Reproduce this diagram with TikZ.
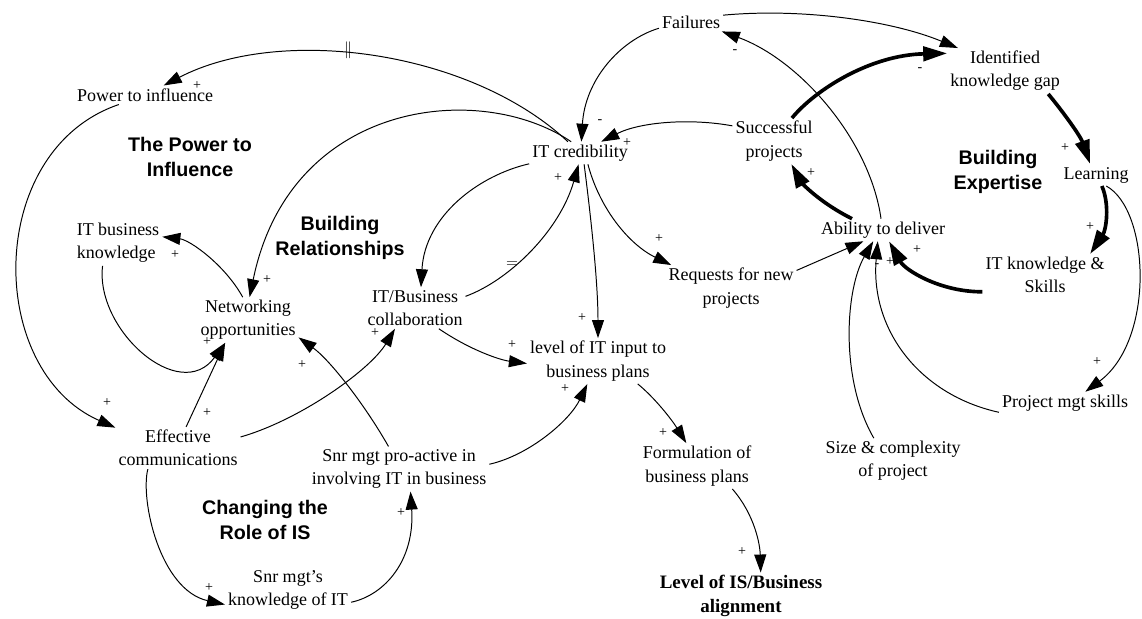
\documentclass[tikz,border=0pt]{standalone}
\usepackage{fontspec}
\setmainfont{Liberation Serif}
\setsansfont{Liberation Sans}
\usetikzlibrary{arrows.meta}
\tikzstyle{var}=[font=\fontsize{12.8}{16.5}\selectfont, align=center, inner sep=2pt]
\tikzstyle{loopname}=[font=\sffamily\bfseries\fontsize{14}{17.5}\selectfont, align=center]
\tikzstyle{goal}=[font=\bfseries\fontsize{13.5}{16.5}\selectfont, align=center, inner sep=2pt]
\tikzstyle{pol}=[font=\fontsize{10}{10}\selectfont, inner sep=0pt]
\tikzstyle{link}=[line width=0.7pt, -{Triangle[length=4.5mm,width=3mm]}]
\tikzstyle{strong}=[line width=2.6pt, -{Triangle[length=6mm,width=3.6mm]}]

\begin{document}
\begin{tikzpicture}[x=0.025cm,y=-0.025cm]
\useasboundingbox (0,0) rectangle (1142,618);

% variables
\node[var] (fail) at (691,22) {Failures};
\node[var] (gap) at (1005,71) {Identified\\knowledge gap};
\node[var] (power) at (145,95) {Power to influence};
\node[var] (cred) at (580,153) {IT credibility};
\node[var] (succ) at (774,141) {Successful\\projects};
\node[var] (learn) at (1096,175) {Learning};
\node[var, align=left] (bizknow) at (118,243) {IT business\\knowledge};
\node[var] (deliver) at (883,230) {Ability to deliver};
\node[var] (skills) at (1045,275) {IT knowledge \&\\Skills};
\node[var] (requests) at (731,288) {Requests for new\\projects};
\node[var] (network) at (248,320) {Networking\\opportunities};
\node[var] (collab) at (415,308) {IT/Business\\collaboration};
\node[var] (input) at (598,361) {level of IT input to\\business plans};
\node[var] (pmskills) at (1065,403) {Project mgt skills};
\node[var] (comms) at (178,448) {Effective\\communications};
\node[var] (proactive) at (399,469) {Snr mgt pro-active in\\involving IT in business};
\node[var] (formul) at (697,466) {Formulation of\\business plans};
\node[var] (size) at (893,461) {Size \& complexity\\of project};
\node[var] (snrknow) at (288,590) {Snr mgt's\\knowledge of IT};
\node[goal] (align) at (741,596) {Level of IS/Business\\alignment};

% loop names
\node[loopname] (loopA) at (190,157) {The Power to\\Influence};
\node[loopname] (loopB) at (340,238) {Building\\Relationships};
\node[loopname] (loopC) at (998,172) {Building\\Expertise};
\node[loopname] (loopD) at (265,520) {Changing the\\Role of IS};

% links
\draw[link] (cred.137) .. controls (470,50) and (280,25) .. (power.27);
\draw[link] (cred.128) .. controls (480,80) and (290,100) .. (network.86);
\draw[link] (fail.191) .. controls (620,40) and (585,80) .. (cred.83);
\draw[link] (succ.160) .. controls (690,118) and (640,122) .. (cred.28);
\draw[link] (cred.192) .. controls (480,175) and (425,215) .. (collab.74);
\draw[link] (collab.13) .. controls (510,280) and (560,230) .. (cred.263);
\draw[link] (cred.290) .. controls (590,210) and (598,280) .. (input.90);
\draw[link] (cred.305) .. controls (600,210) and (630,245) .. (requests.159);
\draw[link] (requests.15) -- (deliver.210);
\draw[link] (size.130) .. controls (840,380) and (845,290) .. (deliver.229);
\draw[link] (pmskills.188) .. controls (920,395) and (870,330) .. (deliver.245);
\draw[link] (deliver.100) .. controls (870,140) and (800,60) .. (fail.343);
\draw[link] (fail.12) .. controls (800,8) and (890,20) .. (gap.154);
\draw[link] (learn.313) .. controls (1150,210) and (1155,340) .. (pmskills.29);
\draw[link] (bizknow.236) .. controls (95,330) and (180,405) .. (network.225);
\draw[link] (network.103) .. controls (225,265) and (190,240) .. (bizknow.8);
\draw[link, {Triangle[length=4.5mm,width=3mm]}-] (network.225) -- (comms.69);
\draw[link] (power.200) .. controls (-15,150) and (-15,370) .. (comms.162);
\draw[link] (comms.10) .. controls (300,420) and (370,370) .. (collab.226);
\draw[link] (proactive.115) .. controls (365,405) and (330,360) .. (network.341);
\draw[link] (proactive.3) .. controls (530,455) and (570,420) .. (input.245);
\draw[link] (collab.319) .. controls (470,350) and (500,360) .. (input.182);
\draw[link] (input.330) .. controls (655,398) and (672,420) .. (formul.115);
\draw[link] (formul.327) .. controls (755,515) and (760,545) .. (align.50);
\draw[link] (comms.215) .. controls (140,500) and (160,590) .. (snrknow.193);
\draw[link] (snrknow.349) .. controls (385,595) and (415,560) .. (proactive.297);

% expertise loop
\draw[strong] (skills.195) .. controls (940,292) and (905,270) .. (deliver.298);
\draw[strong] (deliver.160) .. controls (815,200) and (800,180) .. (succ.307);
\draw[strong] (succ.52) .. controls (815,90) and (870,55) .. (gap.163);
\draw[strong] (gap.332) .. controls (1060,108) and (1080,135) .. (learn.118);
\draw[strong] (learn.298) .. controls (1110,205) and (1106,230) .. (skills.25);

% delays
\node (delayA) at (348,50) {\fontsize{13}{13}\selectfont$\Vert$};
\node (delayB) at (512,265) {\fontsize{11}{11}\selectfont$=$};

% polarities
\foreach \x/\y/\s [count=\i] in {197/86/+, 267/280/+, 600/122/-, 627/143/+, 558/178/+,
    582/318/+, 659/239/+, 735/52/-, 920/70/-, 811/173/+, 1065/148/+, 1090/227/+,
    1097/362/+, 877/266/-, 890/262/+, 917/250/+, 207/342/+, 175/255/+, 207/413/+,
    107/403/+, 375/333/+, 302/365/+, 565/389/+, 512/345/+, 663/433/+, 742/552/+,
    209/588/+, 401/513/+}
  \node[pol] (pol\i) at (\x,\y) {\s};

\end{tikzpicture}
\end{document}
